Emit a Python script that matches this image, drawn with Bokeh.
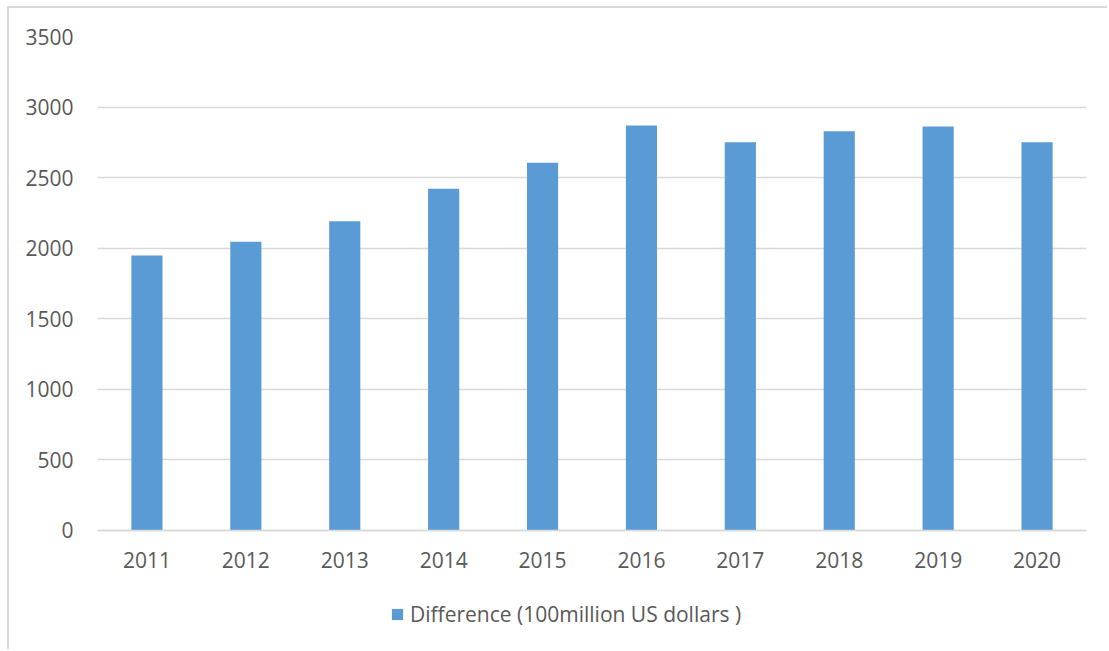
from bokeh.plotting import figure
from bokeh.models import (ColumnDataSource, FactorRange, Range1d, FixedTicker, Legend,
                          LegendItem, CategoricalAxis)
from bokeh.embed import file_html
from bokeh.resources import INLINE

years = ["2011", "2012", "2013", "2014", "2015", "2016", "2017", "2018", "2019", "2020"]
difference = [1947, 2044, 2190, 2420, 2604, 2869, 2750, 2828, 2862, 2750]
y_ticks = [0, 500, 1000, 1500, 2000, 2500, 3000, 3500]
series_name = "Difference (100million US dollars )"

FONT = "Open Sans"
TEXT = "#595959"
GRID = "#d9d9d9"
BAR = "#5b9bd5"

src = ColumnDataSource(data=dict(year=years, value=difference))

# The frame reaches below zero so the category axis and the legend sit inside it.
p = figure(
    width=1100, height=643,
    x_range=FactorRange(factors=years, range_padding=0),
    y_range=Range1d(-819, 3500),
    x_axis_location=None,
    output_backend="svg", toolbar_location=None,
    min_border_left=88, min_border_right=23, min_border_top=28, min_border_bottom=6,
)
p.styles = {"border-top": "2px solid #d9d9d9", "border-left": "2px solid #d9d9d9",
            "margin-left": "7px", "margin-top": "6px"}
p.outline_line_color = None
p.background_fill_color = "white"
p.border_fill_color = "white"

r = p.vbar(x="year", top="value", width=0.315, source=src, fill_color=BAR, line_color=None)

p.yaxis.ticker = FixedTicker(ticks=y_ticks)
p.yaxis.axis_line_color = None
p.yaxis.major_tick_line_color = None
p.yaxis.minor_tick_line_color = None
p.yaxis.major_label_standoff = 18

xaxis = CategoricalAxis(fixed_location=0)
xaxis.axis_line_color = GRID
xaxis.axis_line_width = 1.5
xaxis.major_tick_line_color = None
xaxis.major_label_standoff = 16
p.add_layout(xaxis, "below")

for ax in (xaxis, p.yaxis[0]):
    ax.major_label_text_font = FONT
    ax.major_label_text_font_size = "21px"
    ax.major_label_text_color = TEXT

p.xgrid.grid_line_color = None
p.ygrid.grid_line_color = GRID
p.ygrid.grid_line_width = 1.5

legend = Legend(items=[LegendItem(label=series_name, renderers=[r])],
                location=(293, 17), orientation="horizontal",
                glyph_width=14, glyph_height=14, label_height=14,
                label_standoff=6, padding=0, margin=0, border_line_color=None,
                background_fill_alpha=0,
                label_text_font=FONT, label_text_font_size="21px", label_text_color=TEXT)
p.add_layout(legend, "center")

open("out.html", "w").write(file_html(p, INLINE))
